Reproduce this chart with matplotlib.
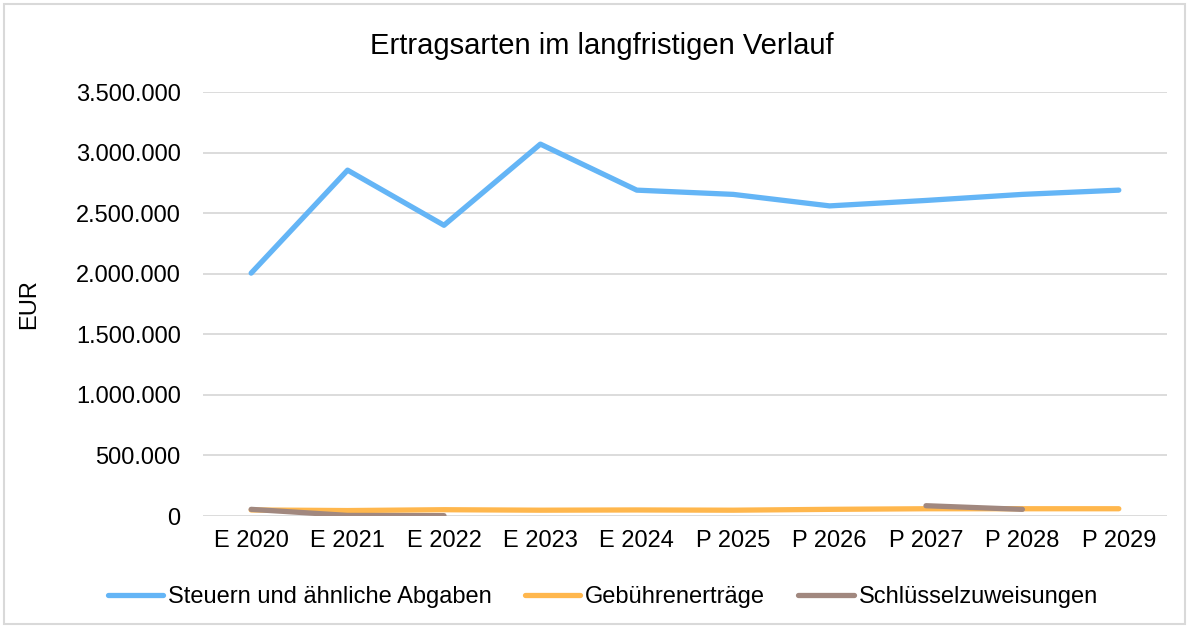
import numpy as np
import matplotlib.pyplot as plt
from matplotlib.patches import Rectangle
from matplotlib.ticker import FuncFormatter

# data
years = ["E 2020", "E 2021", "E 2022", "E 2023", "E 2024",
         "P 2025", "P 2026", "P 2027", "P 2028", "P 2029"]
steuern = [2005000, 2855000, 2400000, 3070000, 2690000,
           2655000, 2560000, 2605000, 2655000, 2690000]
gebuehren = [50000, 45000, 52000, 48000, 50000,
             48000, 55000, 60000, 60000, 60000]
schluessel = [55000, 5000, 3000, np.nan, np.nan,
              np.nan, np.nan, 85000, 55000, np.nan]

plt.rcParams["font.family"] = ["Liberation Sans", "DejaVu Sans"]

c_steuern = "#64B5F6"
c_geb = "#FFB74D"
c_schl = "#A1887F"
grid_c = "#D9D9D9"

fig = plt.figure(figsize=(11.89, 6.26), dpi=100)
ax = fig.add_axes([0.1707, 0.1757, 0.8108, 0.6773])

x = np.arange(len(years))
lw = 3.8
ax.plot(x, steuern, color=c_steuern, lw=lw, solid_capstyle="round",
        label="Steuern und ähnliche Abgaben", zorder=3)
ax.plot(x, gebuehren, color=c_geb, lw=lw, solid_capstyle="round",
        label="Gebührenerträge", zorder=3)
ax.plot(x, schluessel, color=c_schl, lw=lw, solid_capstyle="round",
        label="Schlüsselzuweisungen", zorder=4)

ax.set_xlim(-0.5, len(years) - 0.5)
ax.set_ylim(0, 3500000)
ax.set_yticks(np.arange(0, 3500001, 500000))
ax.yaxis.set_major_formatter(FuncFormatter(lambda v, p: f"{int(v):,}".replace(",", ".")))
ax.set_xticks(x)
ax.set_xticklabels(years)

ax.grid(True, axis="y", color=grid_c, lw=1.3)
ax.set_axisbelow(True)
for s in ax.spines.values():
    s.set_visible(False)
ax.tick_params(axis="both", length=0, labelsize=17, pad=10)
ax.tick_params(axis="y", pad=16)

ax.set_ylabel("EUR", fontsize=17, labelpad=26)
fig.text(0.506, 0.926, "Ertragsarten im langfristigen Verlauf",
         ha="center", va="center", fontsize=21)

fig.legend(loc="center", bbox_to_anchor=(0.507, 0.046), ncol=3, frameon=False,
           fontsize=17, handlelength=2.35, handletextpad=0.2, columnspacing=1.4)

fig.patches.append(Rectangle((0.003, 0.003), 0.994, 0.99, transform=fig.transFigure,
                             fill=False, edgecolor=grid_c, lw=1.5))

fig.savefig("out.png", dpi=100)
